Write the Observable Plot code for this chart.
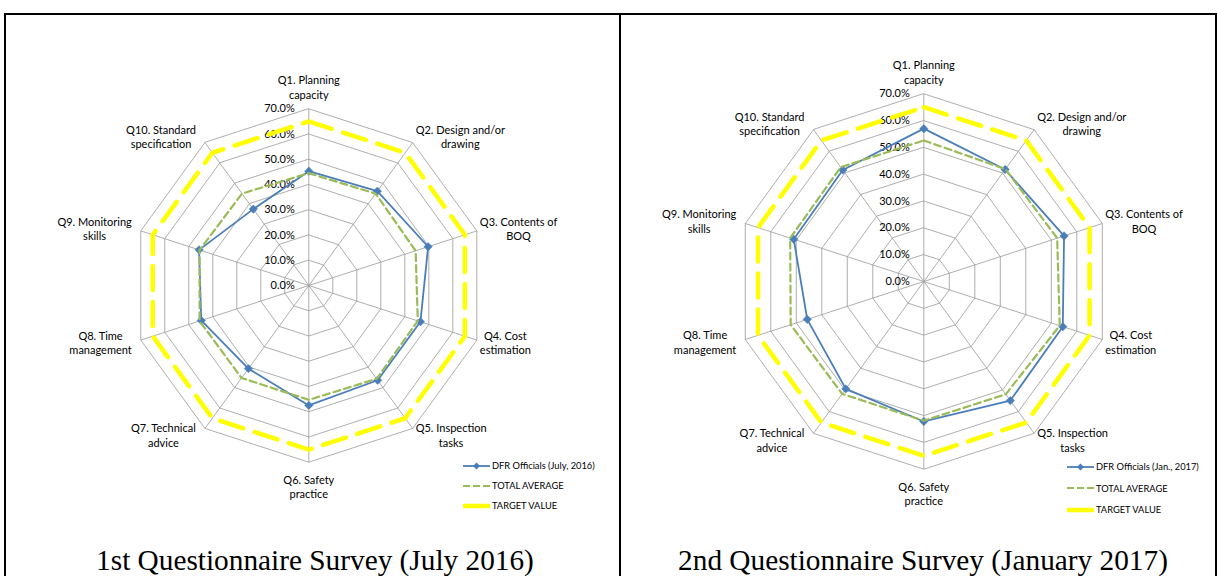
<!DOCTYPE html>
<html>
<head>
<meta charset="utf-8">
<script src="https://cdn.jsdelivr.net/npm/d3@7"></script>
<script src="https://cdn.jsdelivr.net/npm/@observablehq/plot@0.6"></script>
<style>
  html, body { margin: 0; padding: 0; background: #fff; }
  body { width: 1217px; height: 576px; overflow: hidden; position: relative; font-family: Lato, "Open Sans", sans-serif; }
  #frame { position: absolute; left: 4px; top: 13px; width: 1209px; height: 600px;
           border-top: 2px solid #000; border-left: 2px solid #000; border-right: 2px solid #000; }
  #divider { position: absolute; left: 619px; top: 13px; width: 2px; height: 600px; background: #000; }
  .panel { position: absolute; top: 0; }
  .panel svg { overflow: visible; }
  .legend { position: absolute; font-family: Lato, sans-serif; font-size: 9.3px; color: #000; }
  .legend .row { position: absolute; left: 0; white-space: nowrap; height: 12px; line-height: 12px; }
  .legend svg { position: absolute; left: 0; top: 1.5px; }
  .legend span { position: absolute; left: 29px; top: 0; }
  .caption { position: absolute; top: 546px; font-family: "Liberation Serif", "Times New Roman", serif;
             font-size: 29.3px; line-height: 29px; text-align: center; white-space: nowrap; color: #000; }
</style>
</head>
<body>
<div id="frame"></div>
<div id="divider"></div>
<div id="panel1" class="panel" style="left:0px"></div>
<div id="panel2" class="panel" style="left:620px"></div>
<div id="legend1" class="legend" style="left:463px; top:460px"></div>
<div id="legend2" class="legend" style="left:1067px; top:461px"></div>
<div class="caption" style="left:15px; width:600px">1st Questionnaire Survey (July 2016)</div>
<div class="caption" style="left:623px; width:600px">2nd Questionnaire Survey (January 2017)</div>
<script>
// Survey questions (spokes, clockwise from the top)
const questions = [
  "Q1. Planning\ncapacity",
  "Q2. Design and/or\ndrawing",
  "Q3. Contents of\nBOQ",
  "Q4. Cost\nestimation",
  "Q5. Inspection\ntasks",
  "Q6. Safety\npractice",
  "Q7. Technical\nadvice",
  "Q8. Time\nmanagement",
  "Q9. Monitoring\nskills",
  "Q10. Standard\nspecification"
];

// Radial axis
const ticks = [0, 10, 20, 30, 40, 50, 60, 70];
const tickLabels = ["0.0%", "10.0%", "20.0%", "30.0%", "40.0%", "50.0%", "60.0%", "70.0%"];

// 1st survey (July 2016), percent
const dfrJuly2016 = [45.3, 46.2, 49.7, 46.5, 46.4, 47.5, 40.7, 44.8, 45.7, 37.4];
const avgJuly2016 = [44.5, 45.0, 44.5, 45.4, 45.7, 45.3, 45.3, 45.5, 45.5, 45.0];

// 2nd survey (January 2017), percent
const dfrJan2017 = [57.0, 51.6, 55.0, 54.5, 54.9, 52.2, 49.5, 45.7, 51.0, 51.4];
const avgJan2017 = [52.6, 51.8, 52.3, 53.3, 52.0, 51.9, 51.8, 52.2, 52.4, 52.7];

// Target value, same for every question
const targetValue = [65, 65, 65, 65, 65, 65, 65, 65, 65, 65];

const seriesNames = {
  dfr1: "DFR Officials (July, 2016)",
  dfr2: "DFR Officials (Jan., 2017)",
  avg: "TOTAL AVERAGE",
  target: "TARGET VALUE"
};

const BLUE = "#4a7ebb", GREEN = "#9bbb59", YELLOW = "#ffff00", GRID = "#999999";
const LABEL_FONT = "11px Lato";
const n = questions.length;
const angle = (i) => (2 * Math.PI * i) / n;
const px = (v, i) => v * Math.sin(angle(i));
const py = (v, i) => v * Math.cos(angle(i));
const maxV = ticks[ticks.length - 1];

const measureCtx = document.createElement("canvas").getContext("2d");
measureCtx.font = LABEL_FONT;
const blockWidth = (s) => d3.max(s.split("\n"), (l) => measureCtx.measureText(l).width);

function toPoints(values) {
  return values.map((v, i) => ({i, v, x: px(v, i), y: py(v, i)}));
}

function radar({cx, cy, R, width, height, dfr, avg}) {
  const k = R / maxV; // pixels per percent
  const rings = [];
  for (const t of ticks.slice(1)) questions.forEach((q, i) => rings.push({t, x: px(t, i), y: py(t, i)}));
  const spokes = questions.map((q, i) => ({x: px(maxV, i), y: py(maxV, i)}));

  // Category label placement just outside the outer ring
  const labels = questions.map((q, i) => {
    const s = Math.sin(angle(i)), c = Math.cos(angle(i));
    let x = px(maxV, i), y = py(maxV, i);
    if (Math.abs(s) < 0.1) {
      y += (c > 0 ? 22 : -24) / k;
    } else {
      const w = blockWidth(q);
      x += (s > 0 ? 3 + w / 2 : -(9 + w / 2)) / k;
      y += (8 * c) / k;
    }
    return {text: q, x, y};
  });

  const dfrPts = toPoints(dfr), avgPts = toPoints(avg), targetPts = toPoints(targetValue);

  return Plot.plot({
    width, height,
    margin: 0,
    x: {domain: [-maxV, maxV], range: [cx - R, cx + R], axis: null},
    y: {domain: [-maxV, maxV], range: [cy + R, cy - R], axis: null},
    style: {fontFamily: "Lato, sans-serif", fontSize: "11px", background: "transparent", overflow: "visible"},
    marks: [
      Plot.line(rings, {x: "x", y: "y", z: "t", curve: "linear-closed", stroke: GRID, strokeWidth: 0.8}),
      Plot.link(spokes, {x1: 0, y1: 0, x2: "x", y2: "y", stroke: GRID, strokeWidth: 0.8}),
      Plot.text(ticks, {x: 0, y: (d) => d, text: (d, i) => tickLabels[i], textAnchor: "end", dx: -14, fill: "#000", fontSize: 11}),
      Plot.text(labels, {x: "x", y: "y", text: "text", textAnchor: "middle", lineAnchor: "middle", lineHeight: 1.3, fill: "#000", fontSize: 11}),
      Plot.line(dfrPts, {x: "x", y: "y", curve: "linear-closed", stroke: BLUE, strokeWidth: 1.8}),
      Plot.dot(dfrPts, {x: "x", y: "y", symbol: "diamond2", r: 3.8, fill: BLUE, stroke: BLUE, strokeWidth: 0.5}),
      Plot.line(avgPts, {x: "x", y: "y", curve: "linear-closed", stroke: GREEN, strokeWidth: 2.2, strokeDasharray: "7,4"}),
      Plot.line(targetPts, {x: "x", y: "y", curve: "linear-closed", stroke: YELLOW, strokeWidth: 4.5, strokeDasharray: "24,12"})
    ]
  });
}

function legend(el, dfrName, rowGap) {
  const rows = [
    {name: dfrName, swatch: `<line x1="0" y1="4" x2="27" y2="4" stroke="${BLUE}" stroke-width="1.8"/><path d="M13.5,0.5 L17,4 L13.5,7.5 L10,4 Z" fill="${BLUE}"/>`},
    {name: seriesNames.avg, swatch: `<line x1="0" y1="4" x2="27" y2="4" stroke="${GREEN}" stroke-width="2.2" stroke-dasharray="7,3"/>`},
    {name: seriesNames.target, swatch: `<line x1="0" y1="4" x2="27" y2="4" stroke="${YELLOW}" stroke-width="4.5"/>`}
  ];
  el.innerHTML = rows.map((r, i) =>
    `<div class="row" style="top:${i * rowGap}px"><svg width="28" height="9">${r.swatch}</svg><span>${r.name}</span></div>`
  ).join("");
}

document.getElementById("panel1").append(
  radar({cx: 308.3, cy: 285, R: 176.7, width: 620, height: 540, dfr: dfrJuly2016, avg: avgJuly2016})
);
document.getElementById("panel2").append(
  radar({cx: 303.3, cy: 281, R: 187.7, width: 597, height: 540, dfr: dfrJan2017, avg: avgJan2017})
);
legend(document.getElementById("legend1"), seriesNames.dfr1, 20);
legend(document.getElementById("legend2"), seriesNames.dfr2, 21.7);
</script>
</body>
</html>
